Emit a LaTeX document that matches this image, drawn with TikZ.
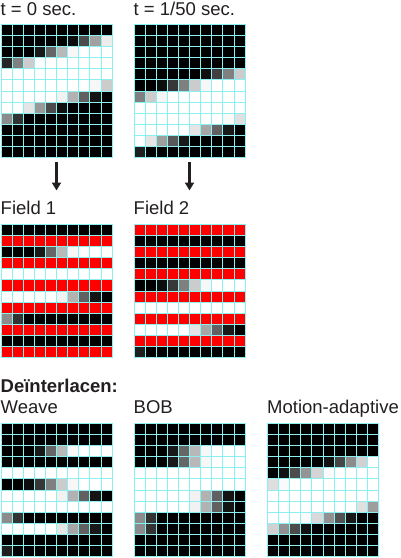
\documentclass[tikz,border=0pt]{standalone}
\usepackage{fontspec}
\setmainfont{Liberation Sans}
\usetikzlibrary{arrows.meta}
\definecolor{gridcol}{RGB}{140,240,240}
\definecolor{arrowcol}{RGB}{35,31,32}
\definecolor{fieldred}{RGB}{255,0,0}
\tikzset{
  gl/.style={draw=gridcol,line width=1pt},
  lbl/.style={anchor=base west,inner sep=0pt,font=\fontsize{18.5}{20}\selectfont,text=arrowcol},
  blbl/.style={lbl,font=\fontsize{18.5}{20}\selectfont\bfseries},
  darr/.style={draw=arrowcol,line width=2.4pt,-{Triangle[width=9pt,length=8pt]}}
}
\def\s{11.12}
% t = 0 rows
\def\ta{0,0,0,0,0,0,0,0,0,0}
\def\tb{0,0,0,0,0,0,5,30,63,93}
\def\tc{0,0,0,10,40,72,97,100,100,100}
\def\td{15,50,80,99,100,100,100,100,100,100}
\def\te{100,100,100,100,100,100,100,100,100,100}
\def\tf{100,100,100,100,100,100,100,100,97,80}
\def\tg{100,100,100,100,100,95,70,38,8,0}
\def\th{100,100,90,60,30,6,0,0,0,0}
\def\ti{55,20,0,0,0,0,0,0,0,0}
% t = 1/50 rows
\def\ua{0,0,0,0,0,0,0,0,0,0}
\def\ue{0,0,0,0,0,0,6,25,50,80}
\def\uf{0,0,5,22,50,80,97,100,100,100}
\def\ug{50,80,96,100,100,100,100,100,100,100}
\def\uh{100,100,100,100,100,100,100,100,100,100}
\def\ui{100,100,100,100,100,100,100,100,98,88}
\def\uj{100,100,100,100,100,90,65,38,10,0}
\def\uk{100,90,62,35,10,0,0,0,0,0}
\def\ul{12,0,0,0,0,0,0,0,0,0}
% motion adaptive rows
\def\md{0,0,0,0,0,7,28,55,82,100}
\def\me{0,7,30,58,83,98,100,100,100,100}
\def\mf{87,98,100,100,100,100,100,100,100,100}
\def\mg{100,100,100,100,100,100,100,100,100,100}
\def\mh{100,100,100,100,100,100,100,100,88,62}
\def\mi{100,100,100,98,85,57,32,10,0,0}
\def\mj{82,57,30,7,0,0,0,0,0,0}
\newcommand\cellrow[4]{\foreach \v [count=\c from 0] in #4 {\fill[white!\v!black] ({#1+\c*\s},{#2+(#3-1)*\s}) rectangle ++(\s,\s);}}
\newcommand\redrow[3]{\fill[fieldred] (#1,{#2+(#3-1)*\s}) rectangle ++({10*\s},\s);}
\newcommand\gridlines[2]{%
  \foreach \i in {0,...,10} {\draw[gl] ({#1+\i*\s},#2) -- ++(0,{12*\s});}
  \foreach \j in {0,...,12} {\draw[gl] (#1,{#2+\j*\s}) -- ++({10*\s},0);}}
\begin{document}
\begin{tikzpicture}[x=1pt,y=-1pt]
\useasboundingbox[fill=white] (0,0) rectangle (400,558);
% labels
\node[lbl] (lt0) at (0.5,15.5) {t = 0 sec.};
\node[lbl] (lt1) at (133.5,15.5) {t = 1/50 sec.};
\node[lbl] (lf1) at (0.5,214) {Field 1};
\node[lbl] (lf2) at (133.5,214) {Field 2};
\node[blbl] (ldi) at (0.5,392) {Deïnterlacen:};
\node[lbl] (lwv) at (0.5,413) {Weave};
\node[lbl] (lbob) at (133.5,413) {BOB};
\node[lbl] (lma) at (267,413) {Motion-adaptive};
% grid t=0
\def\X{1}\def\Y{24.3}
\cellrow{\X}{\Y}{1}{\ta}\cellrow{\X}{\Y}{2}{\tb}\cellrow{\X}{\Y}{3}{\tc}\cellrow{\X}{\Y}{4}{\td}
\cellrow{\X}{\Y}{5}{\te}\cellrow{\X}{\Y}{6}{\tf}\cellrow{\X}{\Y}{7}{\tg}\cellrow{\X}{\Y}{8}{\th}
\cellrow{\X}{\Y}{9}{\ti}\cellrow{\X}{\Y}{10}{\ta}\cellrow{\X}{\Y}{11}{\ta}\cellrow{\X}{\Y}{12}{\ta}
\gridlines{\X}{\Y}
% grid t=1/50
\def\X{134}\def\Y{24.3}
\cellrow{\X}{\Y}{1}{\ua}\cellrow{\X}{\Y}{2}{\ua}\cellrow{\X}{\Y}{3}{\ua}\cellrow{\X}{\Y}{4}{\ua}
\cellrow{\X}{\Y}{5}{\ue}\cellrow{\X}{\Y}{6}{\uf}\cellrow{\X}{\Y}{7}{\ug}\cellrow{\X}{\Y}{8}{\uh}
\cellrow{\X}{\Y}{9}{\ui}\cellrow{\X}{\Y}{10}{\uj}\cellrow{\X}{\Y}{11}{\uk}\cellrow{\X}{\Y}{12}{\ul}
\gridlines{\X}{\Y}
% arrows
\coordinate (a1s) at (56.5,162);
\coordinate (a1e) at (56.5,190.5);
\coordinate (a2s) at (189.5,162);
\coordinate (a2e) at (189.5,190.5);
\draw[darr] (a1s) -- (a1e);
\draw[darr] (a2s) -- (a2e);
% Field 1
\def\X{1}\def\Y{224.3}
\cellrow{\X}{\Y}{1}{\ta}\redrow{\X}{\Y}{2}\cellrow{\X}{\Y}{3}{\tc}\redrow{\X}{\Y}{4}
\cellrow{\X}{\Y}{5}{\te}\redrow{\X}{\Y}{6}\cellrow{\X}{\Y}{7}{\tg}\redrow{\X}{\Y}{8}
\cellrow{\X}{\Y}{9}{\ti}\redrow{\X}{\Y}{10}\cellrow{\X}{\Y}{11}{\ta}\redrow{\X}{\Y}{12}
\gridlines{\X}{\Y}
% Field 2
\def\X{134}\def\Y{224.3}
\redrow{\X}{\Y}{1}\cellrow{\X}{\Y}{2}{\ua}\redrow{\X}{\Y}{3}\cellrow{\X}{\Y}{4}{\ua}
\redrow{\X}{\Y}{5}\cellrow{\X}{\Y}{6}{\uf}\redrow{\X}{\Y}{7}\cellrow{\X}{\Y}{8}{\uh}
\redrow{\X}{\Y}{9}\cellrow{\X}{\Y}{10}{\uj}\redrow{\X}{\Y}{11}\cellrow{\X}{\Y}{12}{\ul}
\gridlines{\X}{\Y}
% Weave
\def\X{1}\def\Y{423.3}
\cellrow{\X}{\Y}{1}{\ta}\cellrow{\X}{\Y}{2}{\ua}\cellrow{\X}{\Y}{3}{\tc}\cellrow{\X}{\Y}{4}{\ua}
\cellrow{\X}{\Y}{5}{\te}\cellrow{\X}{\Y}{6}{\uf}\cellrow{\X}{\Y}{7}{\tg}\cellrow{\X}{\Y}{8}{\uh}
\cellrow{\X}{\Y}{9}{\ti}\cellrow{\X}{\Y}{10}{\uj}\cellrow{\X}{\Y}{11}{\ta}\cellrow{\X}{\Y}{12}{\ul}
\gridlines{\X}{\Y}
% BOB
\def\X{134}\def\Y{423.3}
\cellrow{\X}{\Y}{1}{\ta}\cellrow{\X}{\Y}{2}{\ta}\cellrow{\X}{\Y}{3}{\tc}\cellrow{\X}{\Y}{4}{\tc}
\cellrow{\X}{\Y}{5}{\te}\cellrow{\X}{\Y}{6}{\te}\cellrow{\X}{\Y}{7}{\tg}\cellrow{\X}{\Y}{8}{\tg}
\cellrow{\X}{\Y}{9}{\ti}\cellrow{\X}{\Y}{10}{\ti}\cellrow{\X}{\Y}{11}{\ta}\cellrow{\X}{\Y}{12}{\ta}
\gridlines{\X}{\Y}
% Motion-adaptive
\def\X{267.5}\def\Y{423.3}
\cellrow{\X}{\Y}{1}{\ta}\cellrow{\X}{\Y}{2}{\ta}\cellrow{\X}{\Y}{3}{\ta}\cellrow{\X}{\Y}{4}{\md}
\cellrow{\X}{\Y}{5}{\me}\cellrow{\X}{\Y}{6}{\mf}\cellrow{\X}{\Y}{7}{\mg}\cellrow{\X}{\Y}{8}{\mh}
\cellrow{\X}{\Y}{9}{\mi}\cellrow{\X}{\Y}{10}{\mj}\cellrow{\X}{\Y}{11}{\ta}\cellrow{\X}{\Y}{12}{\ta}
\gridlines{\X}{\Y}
\end{tikzpicture}
\end{document}
